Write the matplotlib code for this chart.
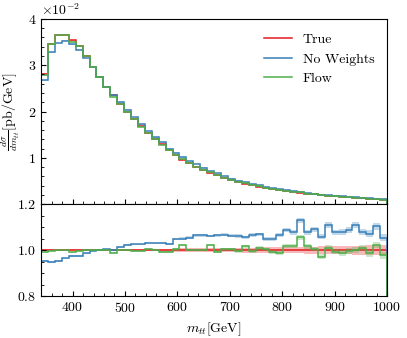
import numpy as np
import matplotlib
matplotlib.use("Agg")
import matplotlib.pyplot as plt
from matplotlib.ticker import AutoMinorLocator

plt.rcParams.update({
    "font.family": "serif",
    "font.serif": ["cmr10", "DejaVu Serif"],
    "mathtext.fontset": "cm",
    "axes.formatter.use_mathtext": True,
    "font.size": 10,
    "xtick.direction": "in",
    "ytick.direction": "in",
    "axes.unicode_minus": False,
})

# ----------------------------------------------------------
# Data (50 bins, 340 - 1000 GeV)
# ----------------------------------------------------------
x_min, x_max, n_bins = 340, 1000, 50

# true differential cross section, in units of 1e-2 pb/GeV
xsec_true = [
    2.81, 3.46, 3.65, 3.66, 3.54, 3.42, 3.20, 2.97, 2.74, 2.53,
    2.35, 2.17, 2.00, 1.84, 1.68, 1.53, 1.40, 1.29, 1.17, 1.06,
    0.96, 0.88, 0.81, 0.74, 0.68, 0.63, 0.57, 0.52, 0.48, 0.445,
    0.41, 0.38, 0.35, 0.325, 0.30, 0.28, 0.26, 0.24, 0.225, 0.21,
    0.195, 0.18, 0.17, 0.16, 0.145, 0.135, 0.125, 0.118, 0.11, 0.10,
]

# ratio to truth
ratio_noweights = [
    0.953, 0.948, 0.953, 0.964, 0.974, 0.974, 0.986, 0.997, 0.999, 1.003,
    1.000, 1.013, 1.022, 1.025, 1.025, 1.033, 1.029, 1.033, 1.027, 1.049,
    1.050, 1.054, 1.064, 1.064, 1.061, 1.064, 1.067, 1.062, 1.061, 1.055,
    1.066, 1.068, 1.049, 1.049, 1.066, 1.087, 1.077, 1.130, 1.077, 1.090,
    1.058, 1.109, 1.077, 1.080, 1.086, 1.109, 1.080, 1.072, 1.103, 1.054,
]
ratio_flow = [
    0.990, 0.997, 1.000, 1.000, 0.990, 0.997, 1.000, 1.000, 1.000, 1.000,
    0.988, 1.000, 1.000, 0.997, 0.997, 1.007, 1.000, 0.991, 0.991, 1.003,
    1.022, 1.000, 1.000, 1.000, 1.022, 0.993, 1.003, 1.003, 0.996, 1.017,
    0.997, 1.010, 1.003, 0.993, 0.988, 1.017, 1.017, 1.055, 1.017, 1.005,
    0.971, 1.010, 0.993, 0.988, 0.996, 1.000, 1.010, 0.986, 1.022, 0.978,
]

# relative statistical uncertainties
relerr_true = [
    0.0042, 0.0038, 0.0037, 0.0037, 0.0037, 0.0038, 0.0039, 0.0041, 0.0042, 0.0044,
    0.0046, 0.0048, 0.0049, 0.0052, 0.0054, 0.0057, 0.0059, 0.0062, 0.0065, 0.0068,
    0.0071, 0.0075, 0.0078, 0.0081, 0.0085, 0.0088, 0.0093, 0.0097, 0.0101, 0.0105,
    0.0109, 0.0114, 0.0118, 0.0123, 0.0128, 0.0132, 0.0137, 0.0143, 0.0148, 0.0153,
    0.0159, 0.0165, 0.0170, 0.0175, 0.0184, 0.0191, 0.0198, 0.0204, 0.0211, 0.0221,
]
relerr_model = [
    0.0030, 0.0027, 0.0026, 0.0026, 0.0026, 0.0027, 0.0027, 0.0029, 0.0030, 0.0031,
    0.0032, 0.0034, 0.0034, 0.0036, 0.0038, 0.0040, 0.0041, 0.0043, 0.0046, 0.0048,
    0.0050, 0.0053, 0.0055, 0.0057, 0.0060, 0.0062, 0.0065, 0.0068, 0.0071, 0.0074,
    0.0076, 0.0080, 0.0083, 0.0086, 0.0090, 0.0092, 0.0096, 0.0100, 0.0104, 0.0107,
    0.0111, 0.0116, 0.0119, 0.0123, 0.0129, 0.0134, 0.0139, 0.0143, 0.0148, 0.0155,
]

labels = ["True", "No Weights", "Flow"]
colors = ["#e41a1c", "#377eb8", "#4daf4a"]

edges = np.linspace(x_min, x_max, n_bins + 1)
true = np.array(xsec_true) * 1e-2
ratios = [np.ones(n_bins), np.array(ratio_noweights), np.array(ratio_flow)]
errs = [np.array(relerr_true), np.array(relerr_model), np.array(relerr_model)]

fig = plt.figure(figsize=(4.07, 3.38), dpi=100)
ax = fig.add_axes([0.101, 0.396, 0.850, 0.548])
rax = fig.add_axes([0.101, 0.124, 0.850, 0.272], sharex=ax)

for lab, col, r, e in zip(labels, colors, ratios, errs):
    vals = true * r
    ax.stairs(vals * (1 + e), edges, baseline=vals * (1 - e), fill=True,
              color=col, alpha=0.3, lw=0)
    ax.stairs(vals, edges, color=col, lw=1.1, label=lab)
    rax.stairs(r + e, edges, baseline=r - e, fill=True, color=col, alpha=0.3, lw=0)
    rax.stairs(r, edges, color=col, lw=1.1)

ax.set_xlim(x_min, x_max)
ax.set_ylim(0, 0.04)
ax.set_yticks([0.01, 0.02, 0.03, 0.04])
ax.ticklabel_format(axis="y", style="sci", scilimits=(-2, -2), useMathText=True)
ax.set_ylabel(r"$\frac{d\sigma}{dm_{tt}}$[pb/GeV]")
ax.tick_params(labelbottom=False)
ax.legend(loc="upper right", frameon=False, bbox_to_anchor=(1.0, 0.99))

rax.set_ylim(0.8, 1.2)
rax.set_yticks([0.8, 1.0, 1.2])
rax.set_xticks([400, 500, 600, 700, 800, 900, 1000])
rax.set_xlabel(r"$m_{tt}$[GeV]")

for a in (ax, rax):
    a.xaxis.set_minor_locator(AutoMinorLocator())
    a.yaxis.set_minor_locator(AutoMinorLocator())
    a.tick_params(which="both", direction="in")

fig.savefig("out.png", dpi=100)
